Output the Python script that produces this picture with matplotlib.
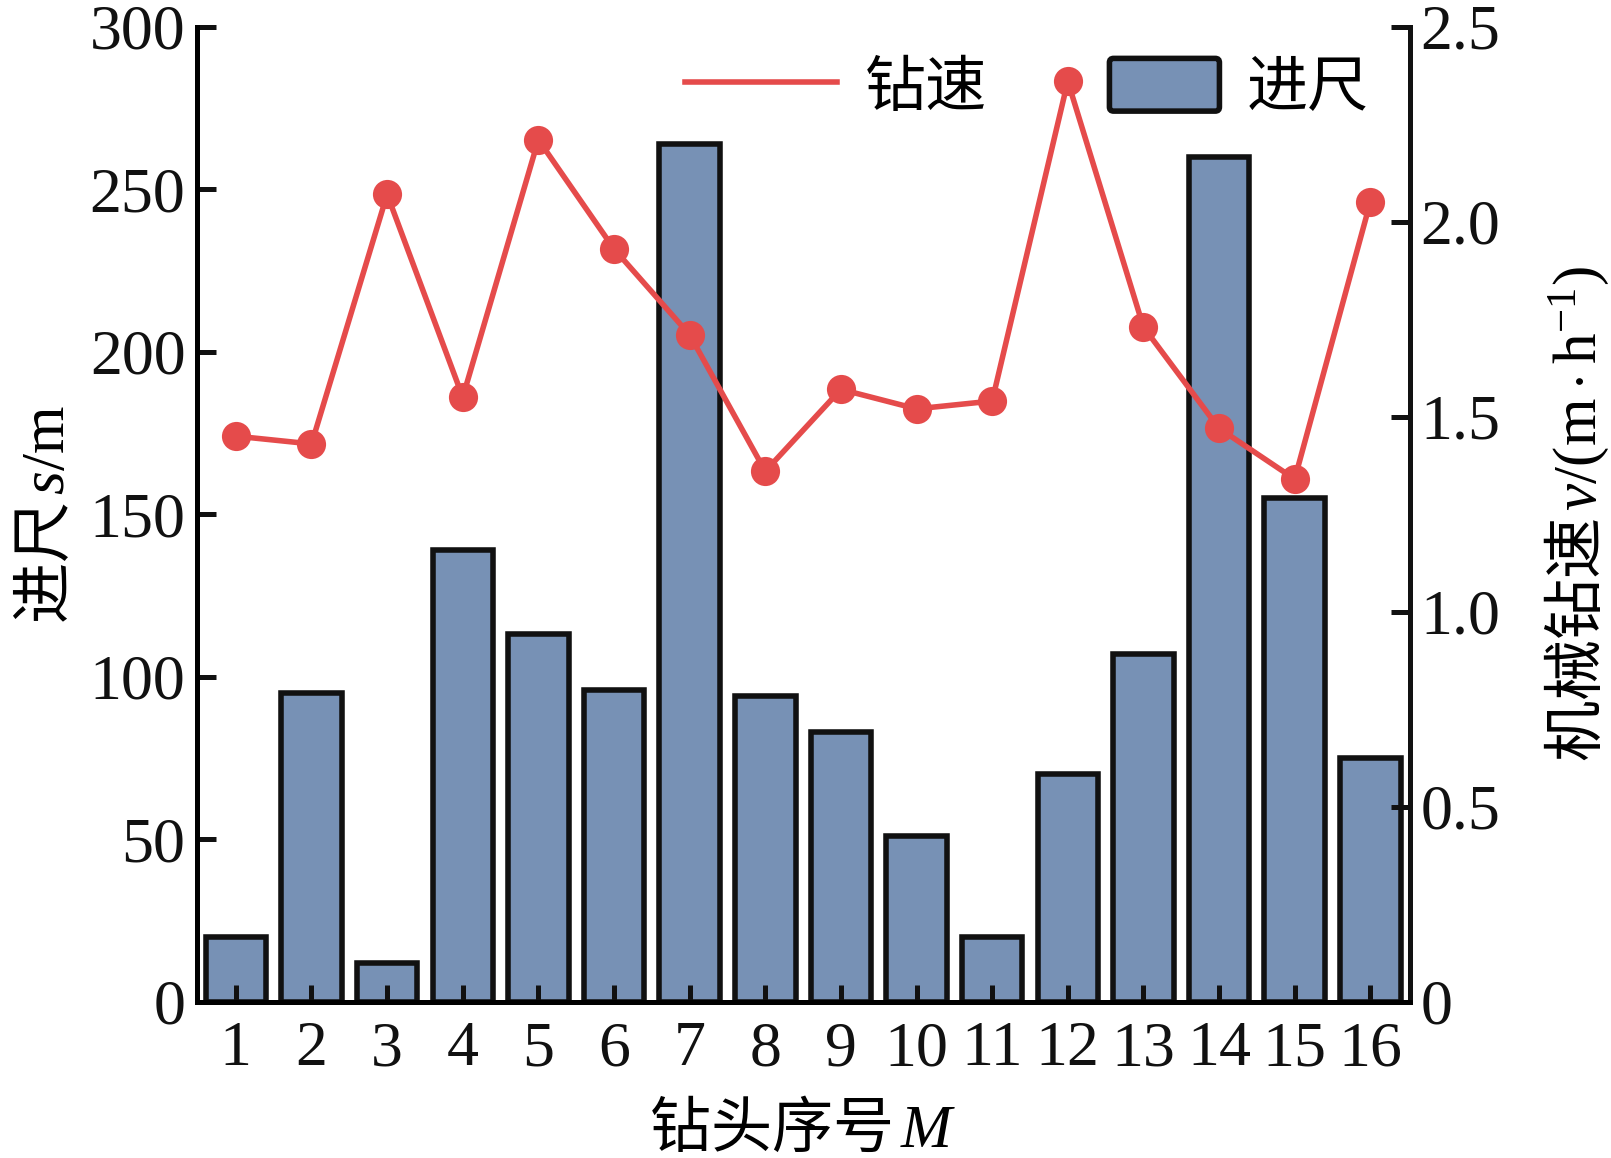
import matplotlib
matplotlib.use("Agg")
import matplotlib.pyplot as plt
from matplotlib.lines import Line2D
from matplotlib.patches import FancyBboxPatch
from matplotlib.legend_handler import HandlerPatch
import numpy as np

# data
bit_ids = list(range(1, 17))
footage = [20, 95, 12, 139, 113, 96, 264, 94, 83, 51, 20, 70, 107, 260, 155, 75]
rop = [1.45, 1.43, 2.07, 1.55, 2.21, 1.93, 1.71, 1.36, 1.57, 1.52, 1.54, 2.36, 1.73, 1.47, 1.34, 2.05]

bar_color = '#7791b5'
line_color = '#e54b4b'
edge = '#111111'

plt.rcParams['font.family'] = ['Liberation Serif', 'Noto Sans CJK SC']
plt.rcParams['mathtext.fontset'] = 'custom'
plt.rcParams['mathtext.rm'] = 'Liberation Serif'
plt.rcParams['mathtext.it'] = 'Liberation Serif:italic'
plt.rcParams['axes.linewidth'] = 3.6

fs_tick = 46
fs = 44
cjk = 'Noto Sans CJK SC'

fig = plt.figure(figsize=(16.11, 11.58), dpi=100)
ax = fig.add_axes([0.122, 0.135, 0.753, 0.842])

bars = ax.bar(bit_ids, footage, width=0.8, color=bar_color, edgecolor=edge,
              linewidth=4, label='进尺', zorder=1)
ax.set_xlim(0.48, 16.52)
ax.set_ylim(0, 300)
ax.set_yticks(np.arange(0, 301, 50))
ax.set_xticks(bit_ids)
ax.tick_params(axis='both', direction='in', width=3.6, labelsize=fs_tick, colors=edge)
ax.tick_params(axis='y', length=14, pad=8)
ax.tick_params(axis='x', length=12, pad=14)
ax.spines['top'].set_visible(False)
for s in ax.spines.values():
    s.set_color(edge)

ax.set_xlabel('钻头序号$\\,M$', fontsize=fs, family=cjk, labelpad=14)
ax.set_ylabel('进尺$\\,s\\mathrm{/m}$', fontsize=fs, family=cjk, labelpad=8)

ax2 = ax.twinx()
ax2.plot(bit_ids, rop, color=line_color, linewidth=4, marker='o',
         markersize=21, markeredgewidth=0, label='钻速', zorder=3)
ax2.set_ylim(0, 2.5)
ax2.set_yticks(np.arange(0, 2.51, 0.5))
ax2.set_yticklabels(['0', '0.5', '1.0', '1.5', '2.0', '2.5'])
ax2.tick_params(axis='y', direction='in', width=3.6, length=14, labelsize=fs_tick,
                pad=8, colors=edge)
ax2.spines['top'].set_visible(False)
ax2.spines['right'].set_linewidth(3.6)
ax2.spines['right'].set_color(edge)
ax2.set_ylabel('机械钻速$\\,v\\mathrm{/(m\\cdot h^{-1})}$', fontsize=fs, family=cjk, labelpad=30)


# legend patch shorter than the line handle, pushed to the right of its slot
def small_box(legend, orig_handle, xdescent, ydescent, width, height, fontsize):
    w = width * 0.72
    return FancyBboxPatch((width - w - xdescent, -ydescent), w, height,
                          boxstyle='round,pad=0,rounding_size=3')


line_handle = Line2D([], [], color=line_color, linewidth=4)
box_handle = bars.patches[0]
leg = ax2.legend([line_handle, box_handle], ['钻速', '进尺'], loc='upper right',
                 bbox_to_anchor=(1.012, 1.025), ncol=2, frameon=False,
                 prop={'family': cjk, 'size': fs}, handlelength=2.5,
                 handleheight=0.95, columnspacing=1.3, handletextpad=0.45,
                 handler_map={type(box_handle): HandlerPatch(patch_func=small_box)})
leg.set_zorder(2)
for p in leg.get_patches():
    p.set_linewidth(4)
    p.set_edgecolor(edge)
    p.set_facecolor(bar_color)

fig.savefig('out.png', dpi=100)
